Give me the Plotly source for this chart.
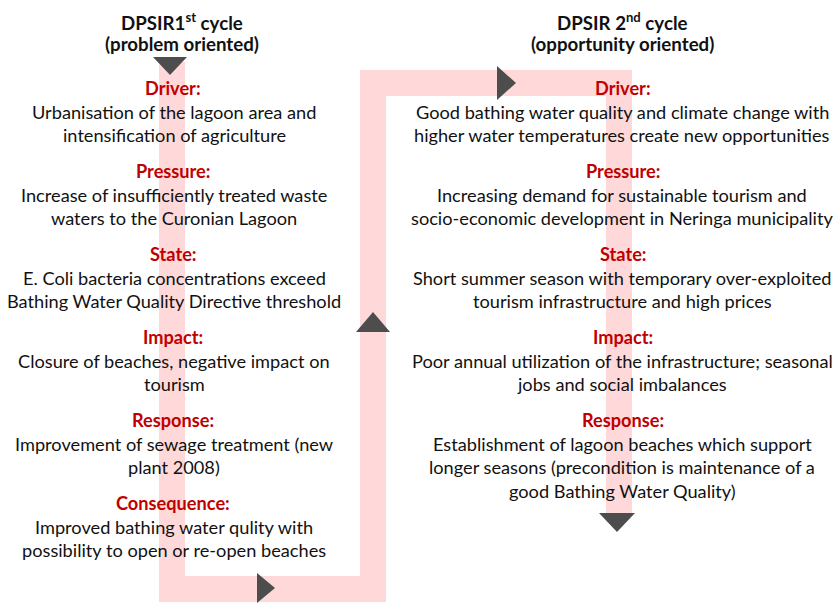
import plotly.graph_objects as go

# ---- content ----
left_title = ["DPSIR1<sup>st</sup> cycle", "(problem oriented)"]
right_title = ["DPSIR 2<sup>nd</sup> cycle", "(opportunity oriented)"]

left_headings = ["Driver:", "Pressure:", "State:", "Impact:", "Response:", "Consequence:"]
left_texts = [
    ["Urbanisation of the lagoon area and", "intensification of agriculture"],
    ["Increase of insufficiently treated waste", "waters to the Curonian Lagoon"],
    ["E. Coli bacteria concentrations exceed", "Bathing Water Quality Directive threshold"],
    ["Closure of beaches, negative impact on", "tourism"],
    ["Improvement of sewage treatment (new", "plant 2008)"],
    ["Improved bathing water qulity with", "possibility to open or re-open beaches"],
]

right_headings = ["Driver:", "Pressure:", "State:", "Impact:", "Response:"]
right_texts = [
    ["Good bathing water quality and climate change with", "higher water temperatures create new opportunities"],
    ["Increasing demand for sustainable tourism and", "socio-economic development in Neringa municipality"],
    ["Short summer season with temporary over-exploited", "tourism infrastructure and high prices"],
    ["Poor annual utilization of the infrastructure; seasonal", "jobs and social imbalances"],
    ["Establishment of lagoon beaches which support", "longer seasons (precondition is maintenance of a",
     "good Bathing Water Quality)"],
]

FONT = "Lato, Calibri, Carlito, sans-serif"
RED = "#C00000"
PINK = "#FFD9D9"
GRAY = "#4D4D4D"

W, H = 838, 605
fig = go.Figure()
fig.add_trace(go.Scatter(x=[0, W], y=[0, H], mode="markers", marker=dict(opacity=0),
                         hoverinfo="skip", showlegend=False))

shapes = []
for x0, x1, y0, y1 in [(159, 185, 62, 602), (159, 386, 576, 602), (360, 386, 70, 602),
                       (360, 632, 70, 96), (606, 632, 70, 515)]:
    shapes.append(dict(type="rect", xref="x", yref="y", x0=x0, x1=x1, y0=y0, y1=y1,
                       fillcolor=PINK, line=dict(width=0), layer="below"))
tri = [
    "M153,57 L187,57 L170,75 Z",
    "M356,332 L390,332 L373,312 Z",
    "M257,573 L257,603 L275,588 Z",
    "M497,66 L497,100 L516,83 Z",
    "M599,513 L635,513 L617,532 Z",
]
for p in tri:
    shapes.append(dict(type="path", xref="x", yref="y", path=p, fillcolor=GRAY,
                       line=dict(width=0), layer="above"))

ann = []
def txt(x, y, s, color="#111111", bold=False, size=18.2):
    ann.append(dict(x=x, y=y, xref="x", yref="y", text=("<b>%s</b>" % s) if bold else s,
                    showarrow=False, xanchor="center", yanchor="middle",
                    font=dict(family=FONT, size=size, color=color)))

txt(182, 21, left_title[0], bold=True, size=18.7)
txt(182, 44, left_title[1], bold=True, size=18.7)
txt(622, 21, right_title[0], bold=True, size=18.7)
txt(622, 44, right_title[1], bold=True, size=18.7)

block_step = 83
line_step = 23.3
for i, (h, lines) in enumerate(zip(left_headings, left_texts)):
    y0 = 88 + i * block_step
    txt(173, y0, h, color=RED, bold=True)
    for j, ln in enumerate(lines):
        txt(174, y0 + 24 + j * line_step, ln)

for i, (h, lines) in enumerate(zip(right_headings, right_texts)):
    y0 = 88 + i * block_step
    txt(623, y0, h, color=RED, bold=True)
    for j, ln in enumerate(lines):
        txt(622, y0 + 24 + j * line_step, ln)

fig.update_layout(
    width=W, height=H, margin=dict(l=0, r=0, t=0, b=0),
    paper_bgcolor="white", plot_bgcolor="white",
    xaxis=dict(range=[0, W], visible=False, fixedrange=True),
    yaxis=dict(range=[H, 0], visible=False, fixedrange=True),
    shapes=shapes, annotations=ann, showlegend=False,
)
fig.write_html("out.html", config={"displayModeBar": False},
               post_script="document.body.style.margin='0';document.body.style.overflow='hidden';")
